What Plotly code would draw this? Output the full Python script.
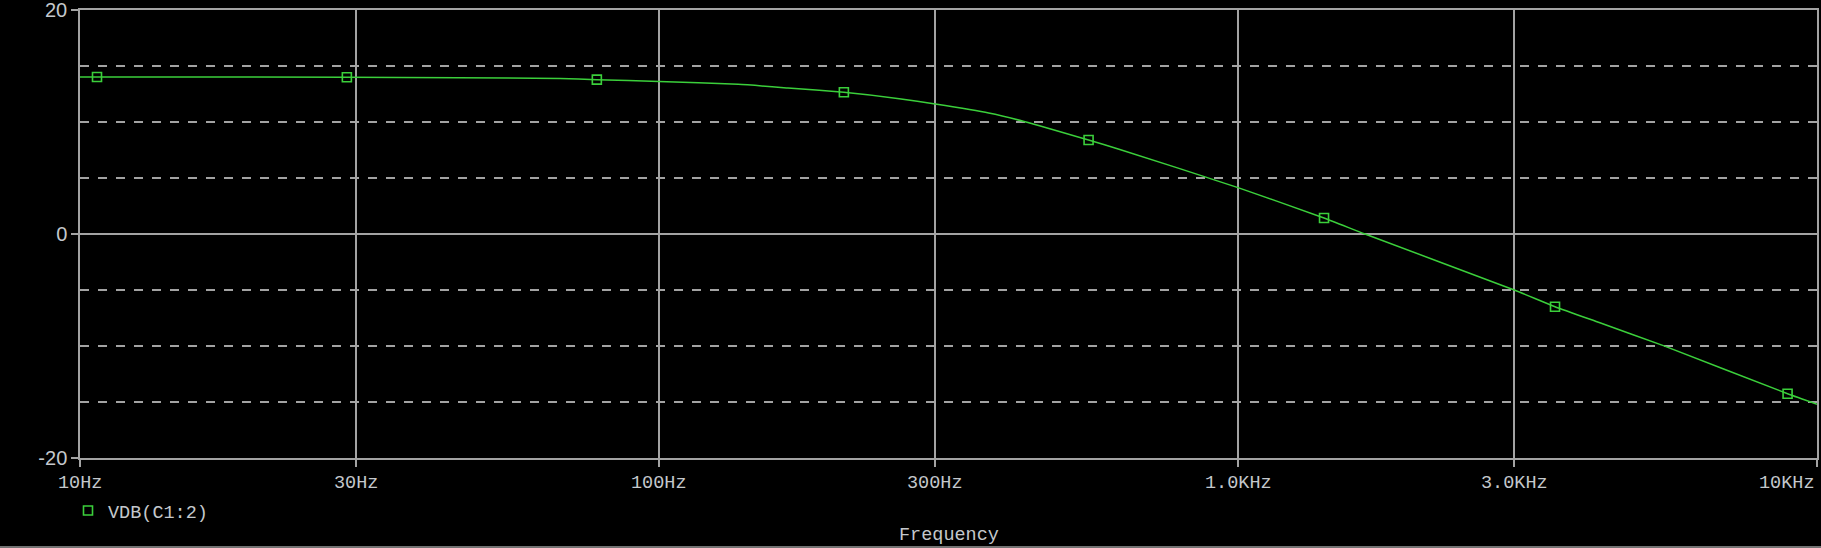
import numpy as np
import plotly.graph_objects as go

# Curve (frequency in Hz, magnitude in dB)
curve_freq = [10, 10.7, 28.9, 45, 67.5, 78.1, 100, 137, 167, 208.6, 260, 300, 371, 427,
              552, 625, 1000, 1408, 1657, 3000, 3528, 4217, 5428, 8896, 10000]
curve_db = [14.02, 14.02, 14.0, 13.95, 13.88, 13.78, 13.62, 13.36, 13.04, 12.65, 12.08, 11.6,
            10.8, 10.05, 8.39, 7.55, 4.14, 1.43, 0.0, -5.0, -6.49, -7.93, -9.97, -14.26, -15.2]

# Marker points
marker_freq = [10.7, 28.9, 78.1, 208.6, 552, 1408, 3528, 8896]
marker_db = [14.02, 14.0, 13.78, 12.65, 8.39, 1.43, -6.49, -14.26]

x_tick_vals = [10, 30, 100, 300, 1000, 3000, 10000]
x_tick_text = ["10Hz", "30Hz", "100Hz", "300Hz", "1.0KHz", "3.0KHz", "10KHz"]
y_tick_vals = [-20, 0, 20]
y_tick_text = ["-20", "0", "20"]

series_name = "VDB(C1:2)"
x_title = "Frequency"

GREEN = "#3bcf3b"
GRAY = "#a3a3a3"
TXT = "#c4c8cc"
MONO = "Liberation Mono, Courier New, monospace"
SANS = "Liberation Sans, Arial, sans-serif"

W, H = 1821, 548
L, R, T, B = 80, 4, 10, 90
pw, ph = W - L - R, H - T - B

fig = go.Figure()
fig.add_trace(go.Scatter(x=curve_freq, y=curve_db, mode="lines",
                         line=dict(color=GREEN, width=1.5, shape="spline", smoothing=0.5),
                         showlegend=False, hoverinfo="skip"))
fig.add_trace(go.Scatter(x=marker_freq, y=marker_db, mode="markers", name=series_name,
                         marker=dict(symbol="square-open", size=9, color=GREEN,
                                     line=dict(color=GREEN, width=1.6))))

annotations = []
for v, t in zip(x_tick_vals, x_tick_text):
    anchor = "right" if v == x_tick_vals[-1] else "center"
    annotations.append(dict(x=np.log10(v), y=-(484 - (H - B)) / ph, xref="x", yref="paper",
                            text=t, showarrow=False, xanchor=anchor, yanchor="middle",
                            font=dict(family=MONO, size=18.5, color=TXT)))
annotations.append(dict(x=0.5, y=-(535 - (H - B)) / ph, xref="paper", yref="paper",
                        text=x_title, showarrow=False, xanchor="center", yanchor="middle",
                        font=dict(family=MONO, size=18.5, color=TXT)))

fig.update_layout(
    width=W, height=H,
    margin=dict(l=L, r=R, t=T, b=B, autoexpand=False),
    paper_bgcolor="black", plot_bgcolor="black",
    annotations=annotations,
    showlegend=True,
    legend=dict(x=(68 - L) / pw, y=-(511 - (H - B)) / ph, xanchor="left", yanchor="middle",
                bgcolor="rgba(0,0,0,0)", font=dict(family=MONO, size=18.5, color=TXT),
                itemwidth=30, tracegroupgap=0),
    shapes=[dict(type="line", xref="paper", yref="paper", x0=-L / pw, x1=1 + R / pw,
                 y0=-(547 - (H - B)) / ph, y1=-(547 - (H - B)) / ph,
                 line=dict(color="#9a9a9a", width=1.5))],
)

fig.update_xaxes(type="log", range=[1, 4], tickvals=x_tick_vals, showticklabels=False,
                 ticks="outside", ticklen=7, tickcolor=GRAY, tickwidth=1.5, automargin=False,
                 showgrid=True, gridcolor=GRAY, gridwidth=1.5,
                 showline=True, linecolor=GRAY, linewidth=1.5, mirror=True, zeroline=False)
fig.update_yaxes(range=[-20, 20], tickvals=y_tick_vals, ticktext=y_tick_text,
                 ticks="outside", ticklen=7, tickcolor=GRAY, tickwidth=1.5, automargin=False,
                 tickfont=dict(family=SANS, size=20, color=TXT), ticklabeloverflow="allow",
                 showgrid=True, gridcolor=GRAY, gridwidth=1.5,
                 minor=dict(dtick=5, showgrid=True, gridcolor=GRAY, griddash="dash",
                            gridwidth=1.5, ticks=""),
                 showline=True, linecolor=GRAY, linewidth=1.5, mirror=True, zeroline=False)

fig.write_html("out.html", config={"displayModeBar": False},
               post_script="document.body.style.margin='0';document.body.style.background='black';"
                           "document.documentElement.style.background='black';")
